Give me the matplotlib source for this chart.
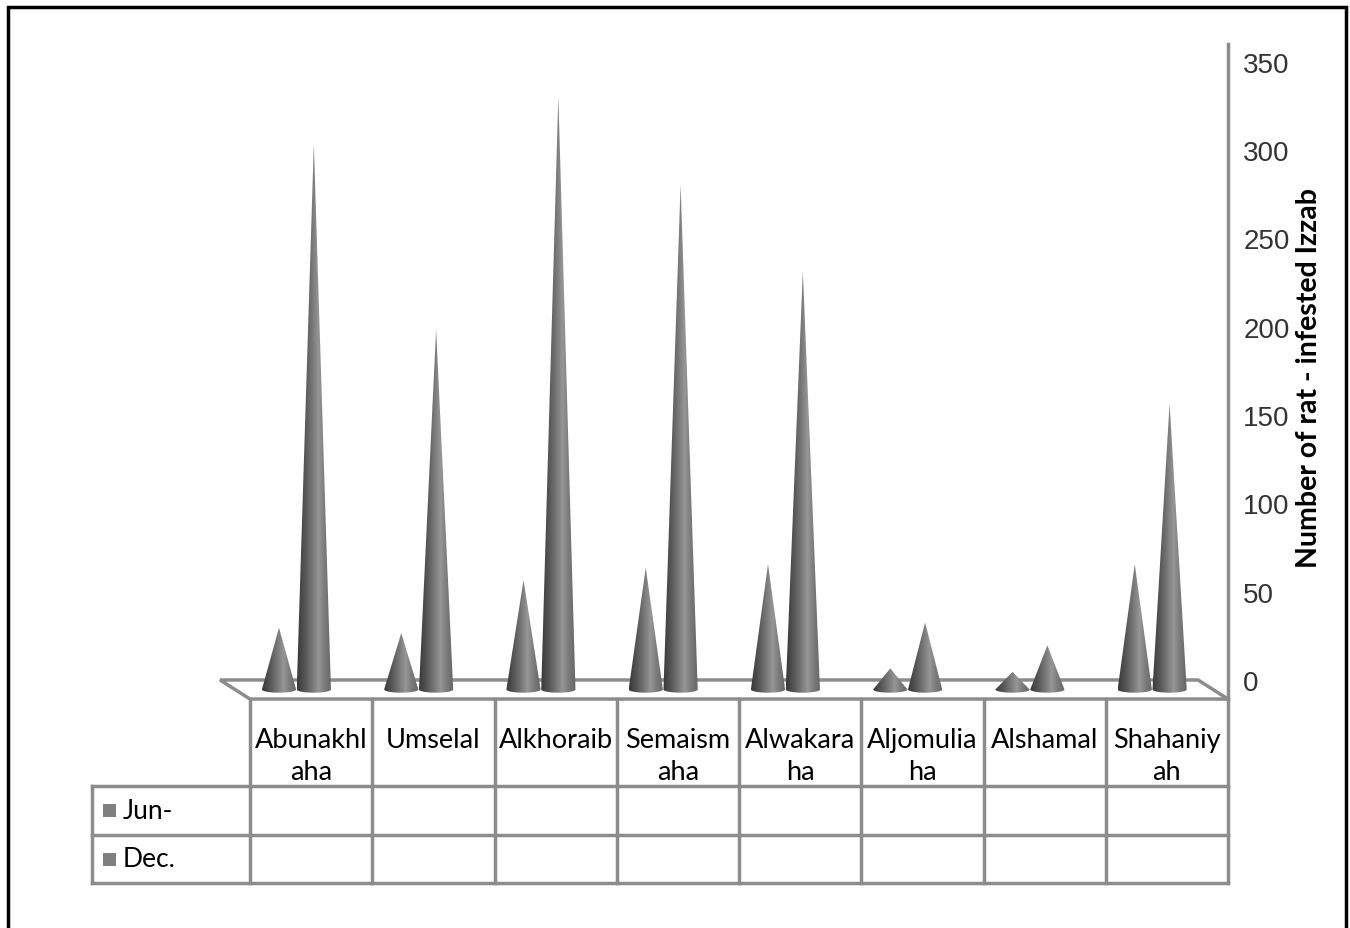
import numpy as np
import matplotlib.pyplot as plt
from matplotlib.patches import Polygon, Rectangle
from matplotlib.colors import LinearSegmentedColormap

# data
categories = ['Abunakhl\naha', 'Umselal', 'Alkhoraib', 'Semaism\naha',
              'Alwakara\nha', 'Aljomulia\nha', 'Alshamal', 'Shahaniy\nah']
jun = [35, 32, 62, 69, 71, 12, 10, 71]
dec = [309, 204, 336, 286, 237, 38, 25, 162]
series_names = ['Jun-', 'Dec.']
y_ticks = [0, 50, 100, 150, 200, 250, 300, 350]
y_label = 'Number of rat - infested Izzab'

W, H = 1350, 929
fig = plt.figure(figsize=(W / 100, H / 100), dpi=100)


def fx(px):
    return px / W


def fy(py):
    return 1 - py / H


grid_col = '#8c8c8c'
cone_cmap = LinearSegmentedColormap.from_list(
    'cone', [(0.0, '#383838'), (0.25, '#5a5a5a'), (0.55, '#8a8a8a'),
             (0.62, '#969696'), (0.8, '#7a7a7a'), (1.0, '#666666')])

# main chart axes: x = category index, y = value
ax = fig.add_axes([fx(250), fy(700.4), fx(978), (700.4 - 41.7) / H])
xlim = (-0.5, len(categories) - 0.5)
ylim = (-11, 362)

# oblique depth of the 3D floor (in data units)
depth_x = -30 / 122.25
depth_y = 10.8

floor = Polygon([(xlim[0] + depth_x, 0), (xlim[1] + depth_x, 0),
                 (xlim[1], -depth_y), (xlim[0], -depth_y)],
                closed=True, fc='white', ec=grid_col, lw=2.5,
                clip_on=False, zorder=1)
ax.add_patch(floor)
ax.plot([xlim[1], xlim[1]], [-depth_y, 360], color=grid_col, lw=2.5,
        clip_on=False, zorder=1)

grad = np.linspace(0, 1, 128).reshape(1, -1)


def draw_cone(xc, base, height, hw, z):
    ell = 1.8
    tip = base + height
    t = np.linspace(np.pi, 2 * np.pi, 40)
    arc = np.column_stack([xc + hw * np.cos(t), base + ell * np.sin(t)])
    pts = np.vstack([arc, [[xc, tip]]])
    patch = Polygon(pts, closed=True, fc='none', ec='none')
    ax.add_patch(patch)
    im = ax.imshow(grad, extent=[xc - hw, xc + hw, base - ell, tip],
                   aspect='auto', cmap=cone_cmap, interpolation='bilinear',
                   zorder=z)
    im.set_clip_path(patch)


base_y = -depth_y / 2
hw = 0.14
for i in range(len(categories)):
    xc = i + depth_x / 2
    draw_cone(xc - 0.14, base_y, jun[i], hw, 3)
    draw_cone(xc + 0.145, base_y, dec[i], hw, 4)

ax.set_xlim(*xlim)
ax.set_ylim(*ylim)
ax.set_xticks([])
for s in ax.spines.values():
    s.set_visible(False)
ax.yaxis.tick_right()
ax.set_yticks(y_ticks)
ax.set_yticklabels([str(v) for v in y_ticks], family='Liberation Sans')
ax.tick_params(axis='y', length=0, pad=11, labelsize=20, labelcolor='#333333')
ax.yaxis.set_label_position('right')
ax.set_ylabel(y_label, family='Lato', fontweight='bold', fontsize=20.5,
              color='black')
ax.yaxis.set_label_coords(1.0 + 68 / 978, 0.49)
ax.patch.set_alpha(0)

# data table under the chart (y in pixels from the floor front)
tax = fig.add_axes([fx(250), fy(884), fx(978), 184 / H])
tax.set_xlim(*xlim)
tax.set_ylim(184, 0)
tax.axis('off')
rows = [87, 136, 184]
left_x = xlim[0] - 158 / 122.25
for k in range(len(categories) + 1):
    tax.plot([k - 0.5, k - 0.5], [0, 184], color=grid_col, lw=2.5,
             clip_on=False)
for r in rows:
    tax.plot([left_x, xlim[1]], [r, r], color=grid_col, lw=2.5,
             clip_on=False)
tax.plot([left_x, left_x], [87, 184], color=grid_col, lw=2.5, clip_on=False)

for i, lab in enumerate(categories):
    tax.text(i, 28, lab, ha='center', va='top', fontsize=19.5,
             family='Lato', linespacing=1.35)

for name, (r0, r1) in zip(series_names, [(87, 136), (136, 184)]):
    yc = (r0 + r1) / 2
    tax.add_patch(Rectangle((left_x + 11 / 122.25, yc - 6.5), 13 / 122.25, 13,
                            fc='#7f7f7f', ec='none', clip_on=False))
    tax.text(left_x + 31 / 122.25, yc, name, ha='left', va='center',
             fontsize=19, family='Lato')

# outer frame
fig.add_artist(Rectangle((fx(8), -0.05), fx(1338), fy(8) + 0.05,
                         transform=fig.transFigure, fill=False,
                         ec='black', lw=2.5))

fig.savefig('out.png', dpi=100)
